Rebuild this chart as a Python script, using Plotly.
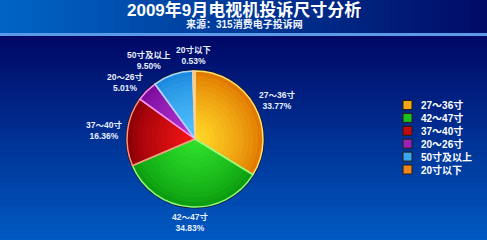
import math
import plotly.graph_objects as go

# Complaint share by TV screen size, September 2009
categories = ["27～36寸", "42～47寸", "37～40寸", "20～26寸", "50寸及以上", "20寸以下"]
shares = [33.77, 34.83, 16.36, 5.01, 9.50, 0.53]

# slice styling: colour at the rim, colour toward the centre, separator colour
rim_colors = ["#e27a02", "#0c9e10", "#8e0008", "#7c0c9c", "#1c8ade", "#e06e08"]
core_colors = ["#ffd826", "#2ee02a", "#f41414", "#b636d6", "#54c4ff", "#f6a030"]
edge_colors = ["#ffe070", "#8cff7c", "#ff9080", "#ff90ff", "#a8d8ff", "#ffd090"]

W, H = 487, 240
FONT = "Liberation Sans, Arial, Noto Sans CJK SC, sans-serif"
LABEL_SIZE = 8.5

# pie placement in pixels
CX, CY, R = 195, 139, 68


def px_x(x):
    return x / W


def px_y(y):
    return 1 - y / H


def mix(c1, c2, t):
    a = [int(c1[i:i + 2], 16) for i in (1, 3, 5)]
    b = [int(c2[i:i + 2], 16) for i in (1, 3, 5)]
    return "rgb(%d,%d,%d)" % tuple(round(a[k] + (b[k] - a[k]) * t) for k in range(3))


def text_width(txt, size):
    # rough advance widths: full width for CJK, narrower for Latin
    w = 0.0
    for ch in txt:
        if ord(ch) > 0x2000:
            w += 1.0
        elif ch in ".":
            w += 0.28
        elif ch == "%":
            w += 0.89
        else:
            w += 0.56
    return w * size


shapes = []
# header band: horizontal gradient, lighter blue on the left
band_h = 33
n = 60
for i in range(n):
    shapes.append(dict(type="rect", xref="paper", yref="paper", layer="below",
                       x0=i / n, x1=(i + 1) / n + 0.002,
                       y0=px_y(band_h), y1=1,
                       fillcolor=mix("#0064c6", "#000c66", i / (n - 1)),
                       line=dict(width=0)))
# thin highlight line under the header
shapes.append(dict(type="rect", xref="paper", yref="paper", layer="below",
                   x0=0, x1=1, y0=px_y(36), y1=px_y(band_h),
                   fillcolor="#5a9ae6", line=dict(width=0)))
# body: vertical gradient, dark navy at top to brighter blue at bottom
top = 36
m = 80
for i in range(m):
    y_top = top + (H - top) * i / m
    y_bot = top + (H - top) * (i + 1) / m + 0.5
    shapes.append(dict(type="rect", xref="paper", yref="paper", layer="below",
                       x0=0, x1=1, y0=px_y(y_bot), y1=px_y(y_top),
                       fillcolor=mix("#000866", "#005ac2", i / (m - 1)),
                       line=dict(width=0)))
# dark outline ring around the pie
shapes.append(dict(type="circle", xref="paper", yref="paper", layer="below",
                   x0=px_x(CX - R - 1.5), x1=px_x(CX + R + 1.5),
                   y0=px_y(CY + R + 1.5), y1=px_y(CY - R - 1.5),
                   fillcolor="#1a1a2a", line=dict(width=0)))


def pie_domain(radius):
    return dict(x=[px_x(CX - radius), px_x(CX + radius)],
                y=[px_y(CY + radius), px_y(CY - radius)])


fig = go.Figure()
# radial shading: stacked pies that shrink toward the centre and get lighter
layers = 14
for k in range(layers):
    t = k / (layers - 1)
    rad = R * (1 - 0.92 * t)
    fig.add_trace(go.Pie(
        labels=categories, values=shares, sort=False,
        direction="clockwise", rotation=0,
        marker=dict(colors=[mix(a, b, t ** 0.8) for a, b in zip(rim_colors, core_colors)],
                    line=dict(width=0)),
        textinfo="none", hoverinfo="skip", showlegend=False,
        domain=pie_domain(rad),
    ))
# top pie: slice separators only
fig.add_trace(go.Pie(
    labels=categories, values=shares, sort=False,
    direction="clockwise", rotation=0,
    marker=dict(colors=["rgba(0,0,0,0)"] * len(categories),
                line=dict(color=edge_colors, width=1.5)),
    textinfo="none", hoverinfo="label+percent", showlegend=False,
    domain=pie_domain(R),
))

annotations = [
    dict(text="<b>2009年9月电视机投诉尺寸分析</b>", x=px_x(244), y=px_y(10),
         xref="paper", yref="paper", showarrow=False, yanchor="middle",
         font=dict(family=FONT, size=17, color="#ffffff")),
    dict(text="<b>来源：315消费电子投诉网</b>", x=px_x(244), y=px_y(24),
         xref="paper", yref="paper", showarrow=False, yanchor="middle",
         font=dict(family=FONT, size=10, color="#f0f4ff")),
]

# data labels just outside each slice, at the slice's mid angle;
# each label block is pushed outward by half its size
total = sum(shares)
cum = 0.0
gap, half_h = 5, 10.5
for name, v in zip(categories, shares):
    mid = (cum + v / 2) / total * 2 * math.pi
    cum += v
    s, c = math.sin(mid), math.cos(mid)
    pct = "%.2f%%" % v
    half_w = max(text_width(name, LABEL_SIZE), text_width(pct, LABEL_SIZE)) / 2
    sx = 1 if s > 0.25 else (-1 if s < -0.25 else 0)
    sy = -c * abs(c)
    bx = CX + (R + gap) * s + half_w * sx
    by = CY - (R + gap) * c + half_h * sy
    annotations.append(dict(
        text="<b>%s<br>%s</b>" % (name, pct), x=px_x(bx), y=px_y(by),
        xref="paper", yref="paper", showarrow=False,
        xanchor="center", yanchor="middle", align="center", borderpad=0,
        font=dict(family=FONT, size=LABEL_SIZE, color="#e8eeff")))

# legend: coloured square and label per category
LEG_X, LEG_Y, LEG_STEP, SW = 403, 105, 12.9, 9
for i, name in enumerate(categories):
    yc = LEG_Y + i * LEG_STEP
    shapes.append(dict(type="rect", xref="paper", yref="paper", layer="above",
                       x0=px_x(LEG_X), x1=px_x(LEG_X + SW),
                       y0=px_y(yc + SW / 2), y1=px_y(yc - SW / 2),
                       fillcolor=mix(rim_colors[i], core_colors[i], 0.5),
                       line=dict(color="#2a1c10", width=1)))
    annotations.append(dict(
        text="<b>%s</b>" % name, x=px_x(419), y=px_y(yc),
        xref="paper", yref="paper", showarrow=False,
        xanchor="left", yanchor="middle",
        font=dict(family=FONT, size=10, color="#ffffff")))

fig.update_layout(
    width=W, height=H,
    margin=dict(l=0, r=0, t=0, b=0),
    paper_bgcolor="#000866",
    plot_bgcolor="rgba(0,0,0,0)",
    shapes=shapes,
    annotations=annotations,
    showlegend=False,
)

fig.write_html("out.html")
